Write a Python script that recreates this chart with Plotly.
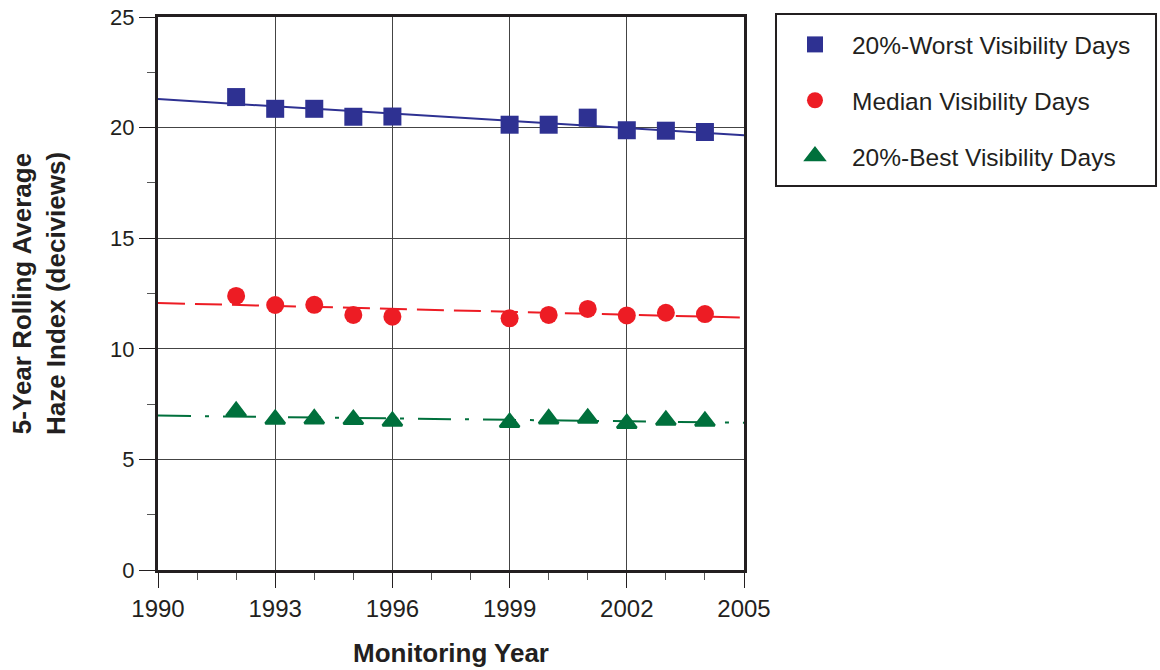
import plotly.graph_objects as go

# ---- data ----
years = [1992, 1993, 1994, 1995, 1996, 1999, 2000, 2001, 2002, 2003, 2004]
worst = [21.38, 20.85, 20.85, 20.49, 20.50, 20.13, 20.13, 20.45, 19.88, 19.86, 19.80]
median = [12.39, 11.98, 11.99, 11.53, 11.45, 11.38, 11.53, 11.80, 11.51, 11.63, 11.57]
best = [7.17, 6.81, 6.83, 6.80, 6.72, 6.67, 6.83, 6.86, 6.62, 6.77, 6.72]

trend_years = [1990, 2005]
worst_trend = [21.29, 19.65]
median_trend = [12.07, 11.41]
best_trend = [6.98, 6.66]

series_names = ["20%-Worst Visibility Days", "Median Visibility Days", "20%-Best Visibility Days"]
x_ticks = [1990, 1993, 1996, 1999, 2002, 2005]
y_ticks = [0, 5, 10, 15, 20, 25]

NAVY = "#2E3192"
RED = "#ED1C24"
GREEN = "#00703C"
INK = "#231F20"
FONT = "Liberation Sans, Arial, Helvetica, sans-serif"

fig = go.Figure()

# trend lines
fig.add_trace(go.Scatter(x=trend_years, y=worst_trend, mode="lines",
                         line=dict(color=NAVY, width=2), showlegend=False, hoverinfo="skip"))
fig.add_trace(go.Scatter(x=trend_years, y=median_trend, mode="lines",
                         line=dict(color=RED, width=2, dash="27px,10px"), showlegend=False, hoverinfo="skip"))
fig.add_trace(go.Scatter(x=trend_years, y=best_trend, mode="lines",
                         line=dict(color=GREEN, width=2, dash="33px,14px,4px,14px"), showlegend=False, hoverinfo="skip"))

# markers
fig.add_trace(go.Scatter(x=years, y=worst, mode="markers", name=series_names[0], legendgroup="a",
                         marker=dict(symbol="square", size=18, color=NAVY)))
fig.add_trace(go.Scatter(x=years, y=median, mode="markers", name=series_names[1], legendgroup="b",
                         marker=dict(symbol="circle", size=18, color=RED)))
fig.add_trace(go.Scatter(x=years, y=best, mode="markers", name=series_names[2], legendgroup="c",
                         marker=dict(symbol="triangle-up", size=17, color=GREEN,
                                     line=dict(color=GREEN, width=2.5))))

fig.update_layout(
    template="none",
    width=1160, height=670,
    margin=dict(l=158, r=416, t=17, b=100, autoexpand=False),
    paper_bgcolor="white", plot_bgcolor="white",
    font=dict(family=FONT, color=INK),
    showlegend=True,
    legend=dict(
        x=1.058, xanchor="left", y=0.991, yanchor="top",
        bgcolor="rgba(0,0,0,0)", borderwidth=0,
        font=dict(size=24.5, family=FONT, color=INK),
        traceorder="grouped", tracegroupgap=21, itemwidth=64,
    ),
    shapes=[dict(type="rect", xref="paper", yref="paper",
                 x0=1.0546, x1=1.7031, y0=0.6944, y1=1.0054,
                 line=dict(color=INK, width=2), fillcolor="rgba(0,0,0,0)")],
)

fig.update_xaxes(
    range=[1990, 2005], tickvals=x_ticks, ticktext=[str(v) for v in x_ticks],
    automargin=False, ticklabeloverflow="allow",
    showgrid=True, gridcolor="#444444", gridwidth=1,
    showline=True, linecolor=INK, linewidth=3, mirror=True,
    ticks="outside", ticklen=15, tickwidth=1, tickcolor=INK,
    tickfont=dict(size=24, family=FONT, color=INK),
    minor=dict(dtick=1, ticks="outside", ticklen=7, tickwidth=1, tickcolor="#555555", showgrid=False),
    zeroline=False,
    title=dict(text="<b>Monitoring Year</b>", font=dict(size=26, family=FONT, color=INK), standoff=24),
)
fig.update_yaxes(
    range=[0, 25], tickvals=y_ticks, ticktext=[str(v) for v in y_ticks],
    automargin=False, ticklabeloverflow="allow",
    showgrid=True, gridcolor="#444444", gridwidth=1,
    showline=True, linecolor=INK, linewidth=3, mirror=True,
    ticks="outside", ticklen=16, tickwidth=1, tickcolor=INK,
    tickfont=dict(size=22, family=FONT, color=INK),
    minor=dict(dtick=2.5, ticks="outside", ticklen=8, tickwidth=1, tickcolor="#555555", showgrid=False),
    zeroline=False,
    title=dict(text="<b>5-Year Rolling Average<br>Haze Index (deciviews)</b>",
               font=dict(size=26, family=FONT, color=INK), standoff=38),
)

fig.write_html("out.html", config={"displayModeBar": False},
               post_script="document.body.style.margin='0';")
